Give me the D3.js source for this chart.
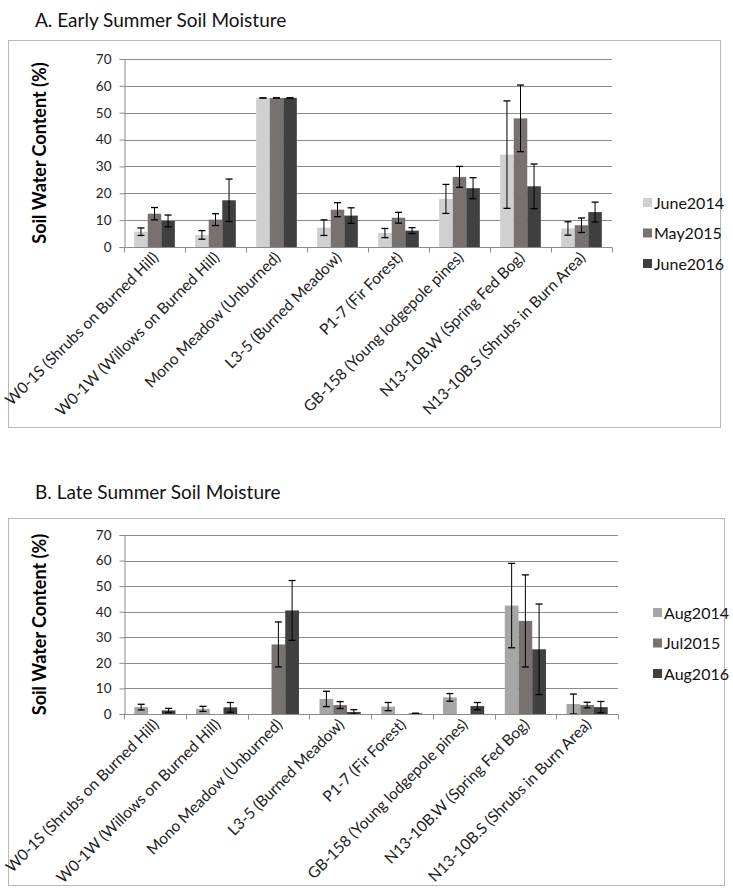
<!DOCTYPE html>
<html>
<head>
<meta charset="utf-8">
<script src="https://cdn.jsdelivr.net/npm/d3@7/dist/d3.min.js"></script>
<style>
  body { margin: 0; background: #fff; }
  svg { font-family: Lato, "Open Sans", sans-serif; }
</style>
</head>
<body>
<div id="chart"></div>
<script>
// sites along the x axis (same for both panels)
let sites = [
  "W0-1S (Shrubs on Burned Hill)",
  "W0-1W (Willows on Burned Hill)",
  "Mono Meadow (Unburned)",
  "L3-5 (Burned Meadow)",
  "P1-7 (Fir Forest)",
  "GB-158 (Young lodgepole pines)",
  "N13-10B.W (Spring Fed Bog)",
  "N13-10B.S (Shrubs in Burn Area)"
];
let yTicks = [0, 10, 20, 30, 40, 50, 60, 70];

// A. early summer
let earlySeries = ["June2014", "May2015", "June2016"];
let june2014 = [5.7, 4.5, 55.5, 7.2, 5.2, 17.9, 34.4, 6.9];
let june2014Err = [1.4, 1.6, 0, 2.9, 1.7, 5.4, 20.0, 2.5];
let may2015 = [12.4, 10.2, 55.5, 13.9, 10.9, 26.1, 47.9, 8.1];
let may2015Err = [2.3, 2.2, 0, 2.6, 2.0, 3.9, 12.4, 2.7];
let june2016 = [9.7, 17.4, 55.5, 11.7, 6.1, 21.9, 22.6, 13.0];
let june2016Err = [2.2, 7.9, 0, 2.9, 1.1, 3.9, 8.3, 3.7];

// B. late summer (null = no sample)
let lateSeries = ["Aug2014", "Jul2015", "Aug2016"];
let aug2014 = [2.7, 2.0, null, 5.9, 2.9, 6.5, 42.4, 3.9];
let aug2014Err = [1.1, 1.0, null, 3.0, 1.6, 1.5, 16.5, 3.9];
let jul2015 = [null, null, 27.2, 3.5, null, null, 36.4, 3.5];
let jul2015Err = [null, null, 8.8, 1.35, null, null, 18.0, 1.1];
let aug2016 = [1.4, 2.6, 40.5, 0.8, 0.25, 3.1, 25.3, 2.7];
let aug2016Err = [0.8, 1.9, 11.7, 0.9, 0, 1.4, 17.7, 2.2];

let width = 733, height = 890;

let svg = d3.select("#chart")
  .append("svg")
  .attr("width", width)
  .attr("height", height);

function drawPanel(opt) {
  let g = svg.append("g");

  // outer frame
  g.append("rect")
    .attr("x", opt.frame[0] + 0.5).attr("y", opt.frame[1] + 0.5)
    .attr("width", opt.frame[2]).attr("height", opt.frame[3])
    .attr("fill", "none").attr("stroke", "#b8b8b8");

  g.append("text")
    .attr("x", 35).attr("y", opt.titleY)
    .attr("font-size", "19px").attr("fill", "#111")
    .text(opt.title);

  let x0 = d3.scaleBand().domain(sites).range([opt.left, opt.right]).padding(0);
  let x1 = d3.scaleBand().domain(opt.series).range([0, x0.bandwidth()])
    .paddingInner(0).paddingOuter(0.75);
  let y = d3.scaleLinear().domain([0, 70]).range([opt.bottom, opt.top]);

  // gridlines
  g.selectAll(".grid")
    .data(yTicks.filter(function(d) { return d > 0; }))
    .enter().append("line")
    .attr("x1", opt.left).attr("x2", opt.right)
    .attr("y1", function(d) { return Math.round(y(d)) + 0.5; })
    .attr("y2", function(d) { return Math.round(y(d)) + 0.5; })
    .attr("stroke", "#8c8c8c");

  // bars
  let rows = [];
  opt.series.forEach(function(s, si) {
    sites.forEach(function(site, i) {
      let v = opt.values[si][i];
      if (v === null) return;
      rows.push({ site: site, series: s, value: v, err: opt.errors[si][i], color: opt.colors[si] });
    });
  });

  g.selectAll(".bar")
    .data(rows)
    .enter().append("rect")
    .attr("x", function(d) { return x0(d.site) + x1(d.series); })
    .attr("y", function(d) { return y(d.value); })
    .attr("width", x1.bandwidth())
    .attr("height", function(d) { return y(0) - y(d.value); })
    .attr("fill", function(d) { return d.color; });

  // error bars
  let eb = g.selectAll(".err")
    .data(rows)
    .enter().append("g")
    .attr("transform", function(d) {
      return "translate(" + (x0(d.site) + x1(d.series) + x1.bandwidth() / 2) + ",0)";
    });
  eb.append("line")
    .attr("x1", 0).attr("x2", 0)
    .attr("y1", function(d) { return y(d.value + d.err); })
    .attr("y2", function(d) { return y(Math.max(0, d.value - d.err)); })
    .attr("stroke", "#000");
  eb.append("line")
    .attr("x1", -3.5).attr("x2", 3.5)
    .attr("y1", function(d) { return y(d.value + d.err); })
    .attr("y2", function(d) { return y(d.value + d.err); })
    .attr("stroke", "#000").attr("stroke-width", 1.3);
  eb.append("line")
    .attr("x1", -3.5).attr("x2", 3.5)
    .attr("y1", function(d) { return y(Math.max(0, d.value - d.err)); })
    .attr("y2", function(d) { return y(Math.max(0, d.value - d.err)); })
    .attr("stroke", "#000").attr("stroke-width", 1.3);

  // y axis
  let yAxis = g.append("g")
    .attr("transform", "translate(" + (opt.left + 0.5) + ",0)")
    .call(d3.axisLeft(y).tickValues(yTicks).tickSize(5).tickPadding(8));
  yAxis.select(".domain").attr("stroke", "#8c8c8c");
  yAxis.selectAll(".tick line").attr("stroke", "#8c8c8c");
  yAxis.selectAll(".tick text")
    .attr("font-size", "13.5px").attr("fill", "#222")
    .attr("font-family", "Lato, sans-serif");

  // x axis line and category separators
  let base = Math.round(y(0)) + 0.5;
  g.append("line")
    .attr("x1", opt.left).attr("x2", opt.right)
    .attr("y1", base).attr("y2", base)
    .attr("stroke", "#8c8c8c");
  let seps = sites.map(function(s) { return x0(s); }).concat([x0.range()[1]]);
  g.selectAll(".sep")
    .data(seps)
    .enter().append("line")
    .attr("x1", function(d) { return Math.round(d) + 0.5; })
    .attr("x2", function(d) { return Math.round(d) + 0.5; })
    .attr("y1", base).attr("y2", base + 5)
    .attr("stroke", "#8c8c8c");

  // rotated category labels
  g.selectAll(".xlab")
    .data(sites)
    .enter().append("text")
    .attr("transform", function(d) {
      return "translate(" + (x0(d) + x0.bandwidth() / 2 + 5) + "," + (base + 11) + ") rotate(-45)";
    })
    .attr("text-anchor", "end")
    .attr("font-size", "15.5px").attr("fill", "#222")
    .text(function(d) { return d; });

  // y axis title
  g.append("text")
    .attr("transform", "translate(46," + ((opt.top + opt.bottom) / 2) + ") rotate(-90)")
    .attr("text-anchor", "middle")
    .attr("font-size", "18px").attr("font-weight", "bold").attr("fill", "#000")
    .text("Soil Water Content (%)");

  // legend
  let leg = g.selectAll(".leg")
    .data(opt.series)
    .enter().append("g")
    .attr("transform", function(d, i) {
      return "translate(" + opt.legendX + "," + (opt.legendY + i * 30.5) + ")";
    });
  leg.append("rect")
    .attr("x", 0).attr("y", -5)
    .attr("width", 9).attr("height", 9)
    .attr("fill", function(d, i) { return opt.colors[i]; });
  leg.append("text")
    .attr("x", 11).attr("y", 5.5)
    .attr("font-size", "16px").attr("fill", "#111")
    .text(function(d) { return d; });
}

drawPanel({
  title: "A. Early Summer Soil Moisture",
  titleY: 27,
  frame: [8, 40, 712, 387],
  left: 124, right: 612, top: 59, bottom: 247,
  series: earlySeries,
  values: [june2014, may2015, june2016],
  errors: [june2014Err, may2015Err, june2016Err],
  colors: ["#d0d0d0", "#777170", "#404040"],
  legendX: 643, legendY: 203
});

drawPanel({
  title: "B. Late Summer Soil Moisture",
  titleY: 499,
  frame: [8, 518, 716, 367],
  left: 124, right: 618, top: 535, bottom: 714,
  series: lateSeries,
  values: [aug2014, jul2015, aug2016],
  errors: [aug2014Err, jul2015Err, aug2016Err],
  colors: ["#a6a6a6", "#777170", "#404040"],
  legendX: 653, legendY: 613
});
</script>
</body>
</html>
